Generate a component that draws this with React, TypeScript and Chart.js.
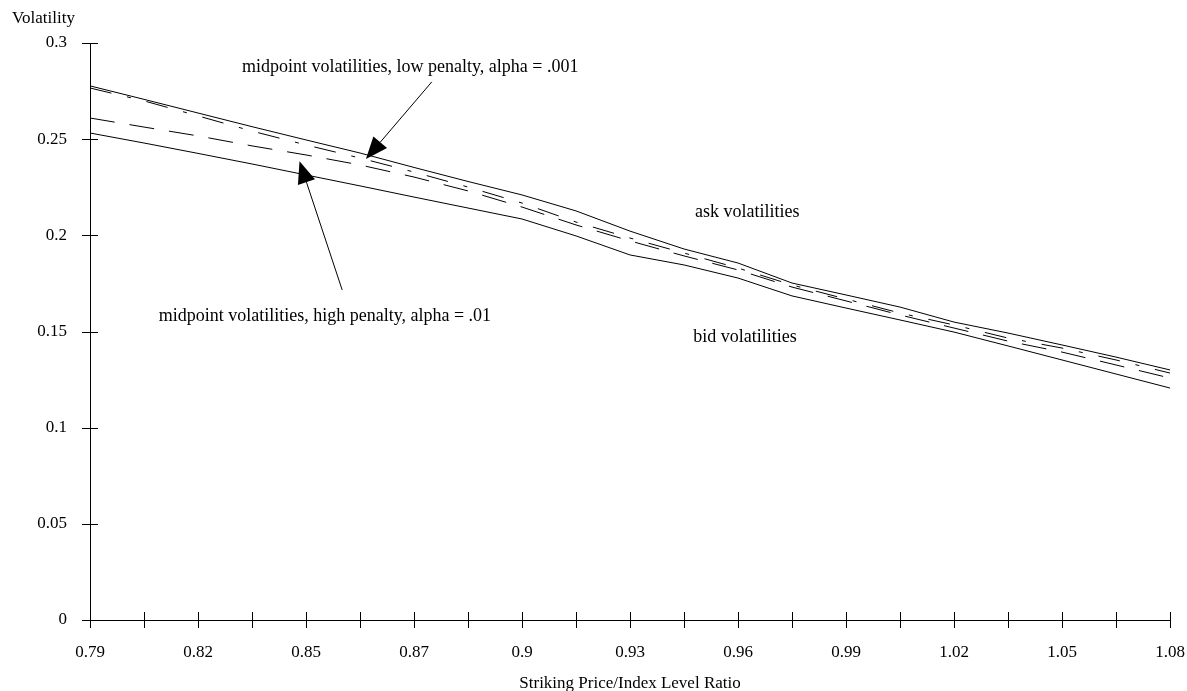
import React, { useEffect, useRef } from "react";
import { Chart, registerables } from "chart.js";

Chart.register(...registerables);

// ---- data ----
const tickLabels = ["0.79", "0.82", "0.85", "0.87", "0.9", "0.93", "0.96", "0.99", "1.02", "1.05", "1.08"];
const stepsPerLabel = 2;

const askVol = [0.2777, 0.2707, 0.2636, 0.2565, 0.2496, 0.2428, 0.2353, 0.228, 0.221, 0.2127, 0.2022, 0.1929, 0.1856, 0.1752, 0.169, 0.1627, 0.1549, 0.1492, 0.143, 0.1367, 0.13];
const midLowPenalty = [0.2766, 0.2699, 0.2621, 0.2542, 0.247, 0.2402, 0.2329, 0.2251, 0.2168, 0.2069, 0.1986, 0.1908, 0.183, 0.1742, 0.1669, 0.1596, 0.1534, 0.1466, 0.1414, 0.1352, 0.1284];
const midHighPenalty = [0.261, 0.2563, 0.2517, 0.2465, 0.2418, 0.2366, 0.2303, 0.2231, 0.2147, 0.2054, 0.1971, 0.1893, 0.182, 0.1731, 0.1659, 0.1586, 0.1518, 0.145, 0.1393, 0.1326, 0.1258];
const bidVol = [0.2532, 0.248, 0.2426, 0.2371, 0.2314, 0.2257, 0.2199, 0.2142, 0.2085, 0.1997, 0.1898, 0.1846, 0.1778, 0.1685, 0.1622, 0.156, 0.1497, 0.1425, 0.1352, 0.1279, 0.1206];

const yTitle = "Volatility";
const xTitle = "Striking Price/Index Level Ratio";

// annotations in data coordinates (x = category index, y = volatility)
const textNotes = [
  { text: "midpoint volatilities, low penalty, alpha = .001", x: 5.93, y: 0.2851 },
  { text: "midpoint volatilities, high penalty, alpha = .01", x: 4.35, y: 0.1555 },
  { text: "ask volatilities", x: 12.17, y: 0.2095 },
  { text: "bid volatilities", x: 12.13, y: 0.1445 },
];
const arrowNotes = [
  { fromX: 6.33, fromY: 0.2798, toX: 5.11, toY: 0.2397 },
  { fromX: 4.67, fromY: 0.1716, toX: 3.88, toY: 0.2385 },
];

const FONT = "'Liberation Serif', 'Times New Roman', Times, serif";

export default function App() {
  const ref = useRef<HTMLCanvasElement | null>(null);

  useEffect(() => {
    if (!ref.current) return;
    document.body.style.overflow = "hidden";
    const n = askVol.length;
    const categories: string[] = [];
    for (let i = 0; i < n; i++) {
      categories.push(i % stepsPerLabel === 0 ? tickLabels[i / stepsPerLabel] : "");
    }

    const overlay = {
      id: "overlay",
      afterDraw(chart: any) {
        const ctx = chart.ctx;
        const xs = chart.scales.x;
        const ys = chart.scales.y;
        const area = chart.chartArea;
        ctx.save();
        ctx.strokeStyle = "#000";
        ctx.lineWidth = 1;
        // tick marks crossing the axes
        ctx.beginPath();
        for (let i = 0; i < n; i++) {
          const px = Math.round(xs.getPixelForTick(i)) + 0.5;
          ctx.moveTo(px, area.bottom - 8);
          ctx.lineTo(px, area.bottom + 8);
        }
        ys.ticks.forEach((t: any) => {
          const py = Math.round(ys.getPixelForValue(t.value)) + 0.5;
          ctx.moveTo(area.left - 8, py);
          ctx.lineTo(area.left + 8, py);
        });
        ctx.stroke();

        // arrows
        ctx.fillStyle = "#000";
        arrowNotes.forEach((a) => {
          const x1 = xs.getPixelForValue(a.fromX);
          const y1 = ys.getPixelForValue(a.fromY);
          const x2 = xs.getPixelForValue(a.toX);
          const y2 = ys.getPixelForValue(a.toY);
          const ang = Math.atan2(y2 - y1, x2 - x1);
          const headLen = 22;
          const headHalf = 9;
          const bx = x2 - headLen * Math.cos(ang);
          const by = y2 - headLen * Math.sin(ang);
          ctx.beginPath();
          ctx.moveTo(x1, y1);
          ctx.lineTo(bx, by);
          ctx.stroke();
          ctx.beginPath();
          ctx.moveTo(x2, y2);
          ctx.lineTo(bx + headHalf * Math.sin(ang), by - headHalf * Math.cos(ang));
          ctx.lineTo(bx - headHalf * Math.sin(ang), by + headHalf * Math.cos(ang));
          ctx.closePath();
          ctx.fill();
        });

        // text notes
        ctx.font = `18px ${FONT}`;
        ctx.textAlign = "center";
        ctx.textBaseline = "alphabetic";
        textNotes.forEach((t) => {
          ctx.fillText(t.text, xs.getPixelForValue(t.x), ys.getPixelForValue(t.y));
        });

        // axis titles
        ctx.font = `17px ${FONT}`;
        ctx.textAlign = "left";
        ctx.fillText(yTitle, area.left - 78, area.top - 20);
        ctx.textAlign = "center";
        ctx.fillText(xTitle, (area.left + area.right) / 2, area.bottom + 68);
        ctx.restore();
      },
    };

    const chart = new Chart(ref.current, {
      type: "line",
      data: {
        labels: categories,
        datasets: [
          { label: "ask volatilities", data: askVol, borderColor: "#000", borderWidth: 1, pointRadius: 0, fill: false, tension: 0 },
          { label: "midpoint volatilities, low penalty", data: midLowPenalty, borderColor: "#000", borderWidth: 1, borderDash: [22, 16, 4, 16], pointRadius: 0, fill: false, tension: 0 },
          { label: "midpoint volatilities, high penalty", data: midHighPenalty, borderColor: "#000", borderWidth: 1, borderDash: [25, 15], pointRadius: 0, fill: false, tension: 0 },
          { label: "bid volatilities", data: bidVol, borderColor: "#000", borderWidth: 1, pointRadius: 0, fill: false, tension: 0 },
        ],
      },
      options: {
        animation: false,
        responsive: true,
        maintainAspectRatio: false,
        layout: { padding: { top: 43, right: 17, left: 0, bottom: 0 } },
        plugins: { legend: { display: false }, tooltip: { enabled: false }, title: { display: false } },
        scales: {
          x: {
            type: "category",
            offset: false,
            grid: { display: false, drawTicks: false },
            border: { display: true, color: "#000", width: 1 },
            ticks: {
              autoSkip: false,
              maxRotation: 0,
              minRotation: 0,
              padding: 22,
              color: "#000",
              font: { family: FONT, size: 17 },
            },
            afterFit: (s: any) => {
              s.height = 71;
              s.paddingLeft = 0;
              s.paddingRight = 0;
            },
          },
          y: {
            min: 0,
            max: 0.3,
            grid: { display: false, drawTicks: false },
            border: { display: true, color: "#000", width: 1 },
            ticks: {
              stepSize: 0.05,
              padding: 23,
              color: "#000",
              font: { family: FONT, size: 17 },
              callback: (v: any) => String(Number(Number(v).toFixed(2))),
            },
            afterFit: (s: any) => {
              s.width = 90;
              s.paddingTop = 0;
              s.paddingBottom = 0;
            },
          },
        },
      },
      plugins: [overlay],
    });
    return () => chart.destroy();
  }, []);

  return (
    <div style={{ position: "absolute", left: 0, top: 0, width: 1187, height: 691, overflow: "hidden", background: "#fff" }}>
      <canvas ref={ref} style={{ display: "block" }} />
    </div>
  );
}
